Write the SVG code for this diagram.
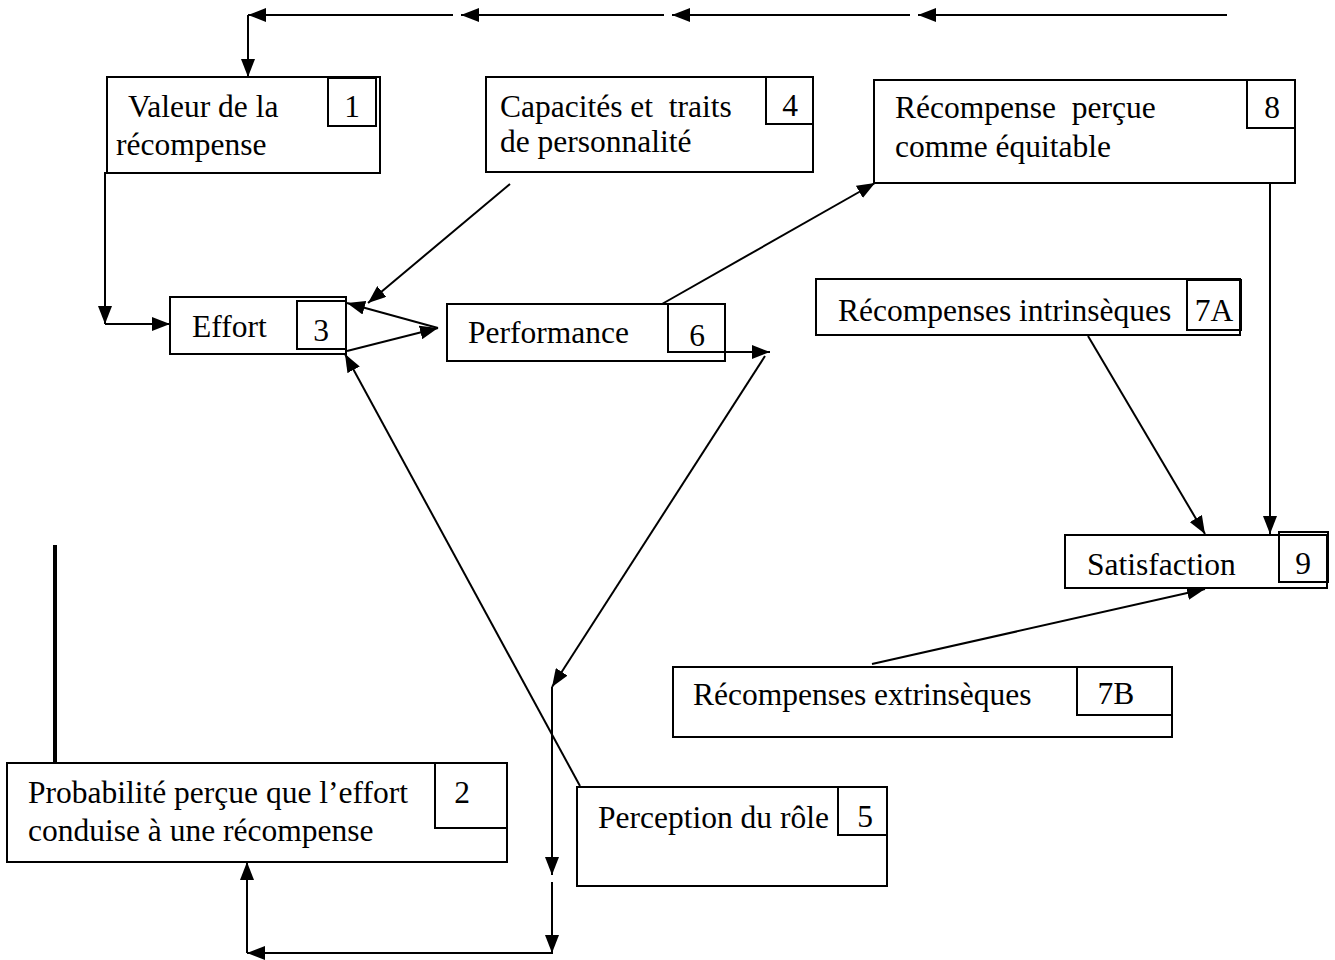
<svg xmlns="http://www.w3.org/2000/svg" width="1335" height="960" viewBox="0 0 1335 960">
<defs>
<marker id="arr" viewBox="0 0 18 14" refX="18" refY="7" markerWidth="18" markerHeight="14" markerUnits="userSpaceOnUse" orient="auto">
<path d="M0,0 L18,7 L0,14 z" fill="#000"/>
</marker>
</defs>
<style>
.box{fill:#fff;stroke:#000;stroke-width:2}
.num{fill:none;stroke:#000;stroke-width:2}
.t{font-family:"Liberation Serif","Times New Roman",serif;font-size:31.5px;fill:#000}
.c{stroke:#000;stroke-width:2;fill:none}
.a{marker-end:url(#arr)}
</style>
<rect width="1335" height="960" fill="#fff"/>
<g id="connectors">
<line class="c a" x1="1227" y1="15" x2="918" y2="15"/>
<line class="c a" x1="910" y1="15" x2="672" y2="15"/>
<line class="c a" x1="664" y1="15" x2="461" y2="15"/>
<line class="c a" x1="453" y1="15" x2="248" y2="15"/>
<line class="c a" x1="248" y1="15" x2="248" y2="77"/>
<line class="c a" x1="105" y1="172" x2="105" y2="324"/>
<line class="c a" x1="105" y1="324" x2="170" y2="324"/>
<line class="c a" x1="510" y1="184" x2="368" y2="303"/>
<line class="c a" x1="438" y1="328" x2="347" y2="303"/>
<line class="c a" x1="347" y1="351" x2="438" y2="328"/>
<line class="c a" x1="580" y1="786" x2="345" y2="354"/>
<line class="c a" x1="662" y1="304" x2="875" y2="183"/>
<line class="c a" x1="725" y1="352" x2="770" y2="352"/>
<line class="c a" x1="765" y1="356" x2="552" y2="687"/>
<line class="c a" x1="552" y1="687" x2="552" y2="875"/>
<line class="c a" x1="552" y1="882" x2="552" y2="953"/>
<line class="c a" x1="553" y1="953" x2="247" y2="953"/>
<line class="c a" x1="247" y1="953" x2="247" y2="862"/>
<line class="c a" x1="1270" y1="183" x2="1270" y2="534"/>
<line class="c a" x1="1088" y1="336" x2="1205" y2="534"/>
<line class="c a" x1="872" y1="664" x2="1205" y2="589"/>
<line x1="55" y1="545" x2="55" y2="763" stroke="#000" stroke-width="4"/>
</g>
<g id="n1">
<rect class="box" x="107" y="77" width="273" height="96"/>
<rect class="num" x="328" y="78" width="48" height="48"/>
<text class="t" x="128" y="117">Valeur de la</text>
<text class="t" x="116" y="155">récompense</text>
<text class="t" x="352" y="117" text-anchor="middle">1</text>
</g>
<g id="n4">
<rect class="box" x="486" y="77" width="327" height="95"/>
<rect class="num" x="766" y="77" width="47" height="47"/>
<text class="t" x="500" y="117" xml:space="preserve">Capacités et  traits</text>
<text class="t" x="500" y="152">de personnalité</text>
<text class="t" x="790" y="116" text-anchor="middle">4</text>
</g>
<g id="n8">
<rect class="box" x="874" y="80" width="421" height="103"/>
<rect class="num" x="1247" y="80" width="48" height="48"/>
<text class="t" x="895" y="118" xml:space="preserve">Récompense  perçue</text>
<text class="t" x="895" y="157">comme équitable</text>
<text class="t" x="1272" y="118" text-anchor="middle">8</text>
</g>
<g id="n3">
<rect class="box" x="170" y="297" width="176" height="57"/>
<rect class="num" x="297" y="301" width="49" height="48"/>
<text class="t" x="192" y="337">Effort</text>
<text class="t" x="321" y="341" text-anchor="middle">3</text>
</g>
<g id="n6">
<rect class="box" x="447" y="304" width="278" height="57"/>
<rect class="num" x="668" y="304" width="57" height="48"/>
<text class="t" x="468" y="343">Performance</text>
<text class="t" x="697" y="346" text-anchor="middle">6</text>
</g>
<g id="n7a">
<rect class="box" x="816" y="279" width="424" height="56"/>
<rect class="num" x="1187" y="280" width="54" height="50"/>
<text class="t" x="838" y="321">Récompenses intrinsèques</text>
<text class="t" x="1214" y="321" text-anchor="middle">7A</text>
</g>
<g id="n9">
<rect class="box" x="1065" y="535" width="262" height="53"/>
<rect class="num" x="1279" y="532" width="49" height="50"/>
<text class="t" x="1087" y="575">Satisfaction</text>
<text class="t" x="1303" y="574" text-anchor="middle">9</text>
</g>
<g id="n7b">
<rect class="box" x="673" y="667" width="499" height="70"/>
<rect class="num" x="1077" y="667" width="95" height="48"/>
<text class="t" x="693" y="705">Récompenses extrinsèques</text>
<text class="t" x="1116" y="704" text-anchor="middle">7B</text>
</g>
<g id="n2">
<rect class="box" x="7" y="763" width="500" height="99"/>
<rect class="num" x="435" y="763" width="72" height="65"/>
<text class="t" x="28" y="803">Probabilité perçue que l’effort</text>
<text class="t" x="28" y="841">conduise à une récompense</text>
<text class="t" x="462" y="803" text-anchor="middle">2</text>
</g>
<g id="n5">
<rect class="box" x="577" y="787" width="310" height="99"/>
<rect class="num" x="838" y="787" width="49" height="48"/>
<text class="t" x="598" y="828">Perception du rôle</text>
<text class="t" x="865" y="827" text-anchor="middle">5</text>
</g>
</svg>
